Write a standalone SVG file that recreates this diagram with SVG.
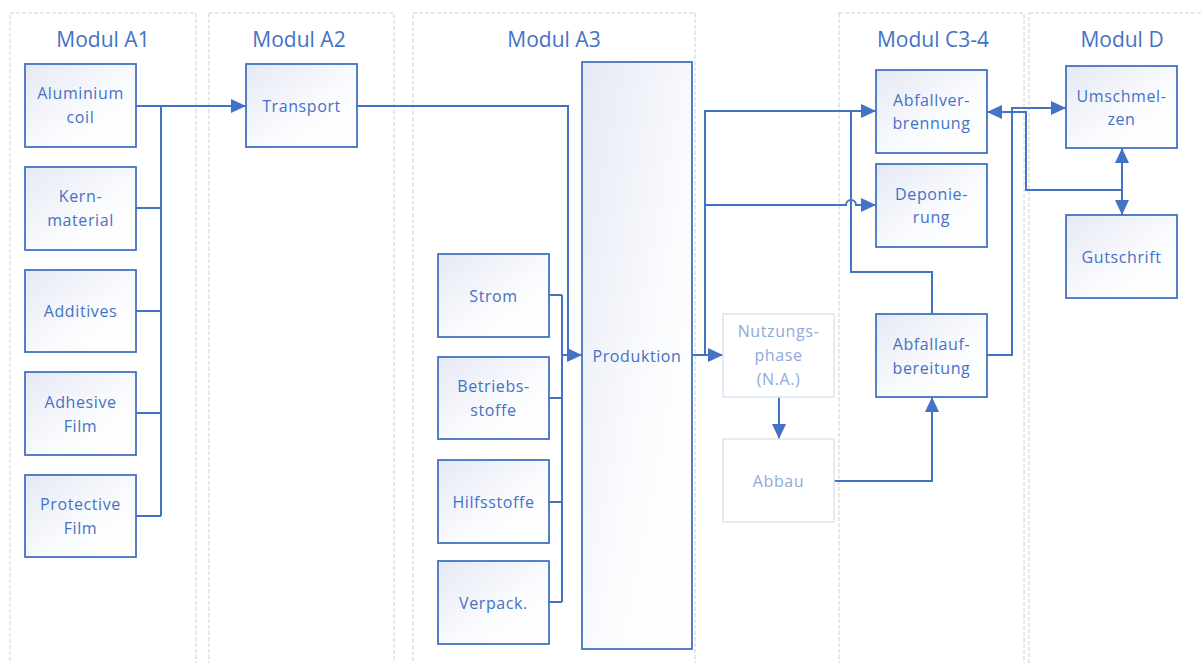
<svg xmlns="http://www.w3.org/2000/svg" width="1202" height="663" viewBox="0 0 1202 663">
<defs>
<linearGradient id="g" x1="0" y1="0" x2="1" y2="1">
<stop offset="0" stop-color="#e6e9f5"/>
<stop offset="0.6" stop-color="#fbfcfe"/>
<stop offset="1" stop-color="#ffffff"/>
</linearGradient>
<marker id="ar" markerUnits="userSpaceOnUse" markerWidth="16" markerHeight="14" refX="15" refY="7" orient="auto-start-reverse">
<path d="M0,0 L15,7 L0,14 z" fill="#4472c4"/>
</marker>
<style>
.lane{fill:none;stroke:#cfcfcf;stroke-width:1;stroke-dasharray:4,2}
.title{font-family:"Open Sans","Liberation Sans",sans-serif;font-size:21px;fill:#4472c4;text-anchor:middle}
.box rect{fill:url(#g);stroke:#4472c4;stroke-width:1.8}
.box text,.lite text{font-family:"Open Sans","Liberation Sans",sans-serif;font-size:16px;fill:#4472c4;text-anchor:middle;letter-spacing:0.6px}
.lite rect{fill:#ffffff;stroke:#dde5f2;stroke-width:1.5}
.lite text{fill:#8eaadb}
.c path{fill:none;stroke:#4472c4;stroke-width:2}
.c path.a{marker-end:url(#ar)}
</style>
</defs>
<rect width="1202" height="663" fill="#ffffff"/>
<g id="lanes">
<rect class="lane" x="10" y="13" width="186" height="660"/>
<rect class="lane" x="209" y="13" width="185" height="660"/>
<rect class="lane" x="413" y="13" width="282" height="660"/>
<rect class="lane" x="839" y="13" width="185" height="660"/>
<rect class="lane" x="1029" y="13" width="190" height="660"/>
<text class="title" x="103" y="47">Modul A1</text>
<text class="title" x="299" y="47">Modul A2</text>
<text class="title" x="554" y="47">Modul A3</text>
<text class="title" x="933" y="47">Modul C3-4</text>
<text class="title" x="1122" y="47">Modul D</text>
</g>
<g id="connectors" class="c">
<path class="a" d="M136,106 H246"/>
<path d="M136,208 H161 M136,311 H161 M136,413 H161 M136,516 H161 M161,106 V516"/>
<path class="a" d="M357,106 H568 V355 H582"/>
<path d="M549,295 H562 M549,398 H562 M549,502 H562 M549,602 H562 M562,295 V602 M562,355 H570"/>
<path class="a" d="M692,355 H723"/>
<path class="a" d="M705,355 V111 H876"/>
<path class="a" d="M705,205 H846 A5,5 0 0 1 856,205 H876"/>
<path class="a" d="M779,397 V439"/>
<path class="a" d="M834,481 H932 V397"/>
<path d="M932,314 V272 H851 V111"/>
<path class="a" d="M987,355 H1012 V108 H1066"/>
<path class="a" d="M1122,190 H1026 V112 H987"/>
<path class="a" d="M1122,170 V148"/>
<path class="a" d="M1122,170 V215"/>
</g>
<g id="n-alu" class="box"><rect x="25" y="64" width="111" height="83"/><text x="80.5" y="99">Aluminium</text><text x="80.5" y="123">coil</text></g>
<g id="n-kern" class="box"><rect x="25" y="167" width="111" height="83"/><text x="80.5" y="202">Kern-</text><text x="80.5" y="226">material</text></g>
<g id="n-add" class="box"><rect x="25" y="270" width="111" height="82"/><text x="80.5" y="317">Additives</text></g>
<g id="n-adh" class="box"><rect x="25" y="372" width="111" height="83"/><text x="80.5" y="408">Adhesive</text><text x="80.5" y="432">Film</text></g>
<g id="n-prot" class="box"><rect x="25" y="475" width="111" height="82"/><text x="80.5" y="510">Protective</text><text x="80.5" y="534">Film</text></g>
<g id="n-trans" class="box"><rect x="246" y="64" width="111" height="83"/><text x="301.5" y="112">Transport</text></g>
<g id="n-strom" class="box"><rect x="438" y="254" width="111" height="83"/><text x="493.5" y="302">Strom</text></g>
<g id="n-betr" class="box"><rect x="438" y="357" width="111" height="82"/><text x="493.5" y="392">Betriebs-</text><text x="493.5" y="416">stoffe</text></g>
<g id="n-hilf" class="box"><rect x="438" y="460" width="111" height="83"/><text x="493.5" y="508">Hilfsstoffe</text></g>
<g id="n-verp" class="box"><rect x="438" y="561" width="111" height="83"/><text x="493.5" y="609">Verpack.</text></g>
<g id="n-prod" class="box"><rect x="582" y="62" width="110" height="587"/><text x="637" y="362">Produktion</text></g>
<g id="n-nutz" class="lite"><rect x="723" y="314" width="111" height="83"/><text x="778.5" y="337">Nutzungs-</text><text x="778.5" y="361">phase</text><text x="778.5" y="385">(N.A.)</text></g>
<g id="n-abbau" class="lite"><rect x="723" y="439" width="111" height="83"/><text x="778.5" y="487">Abbau</text></g>
<g id="n-verbr" class="box"><rect x="876" y="70" width="111" height="83"/><text x="931.5" y="106">Abfallver-</text><text x="931.5" y="129">brennung</text></g>
<g id="n-depo" class="box"><rect x="876" y="164" width="111" height="83"/><text x="931.5" y="200">Deponie-</text><text x="931.5" y="223">rung</text></g>
<g id="n-aufb" class="box"><rect x="876" y="314" width="111" height="83"/><text x="931.5" y="350">Abfallauf-</text><text x="931.5" y="374">bereitung</text></g>
<g id="n-umsch" class="box"><rect x="1066" y="66" width="111" height="82"/><text x="1121.5" y="102">Umschmel-</text><text x="1121.5" y="125">zen</text></g>
<g id="n-gut" class="box"><rect x="1066" y="215" width="111" height="83"/><text x="1121.5" y="263">Gutschrift</text></g>
</svg>
